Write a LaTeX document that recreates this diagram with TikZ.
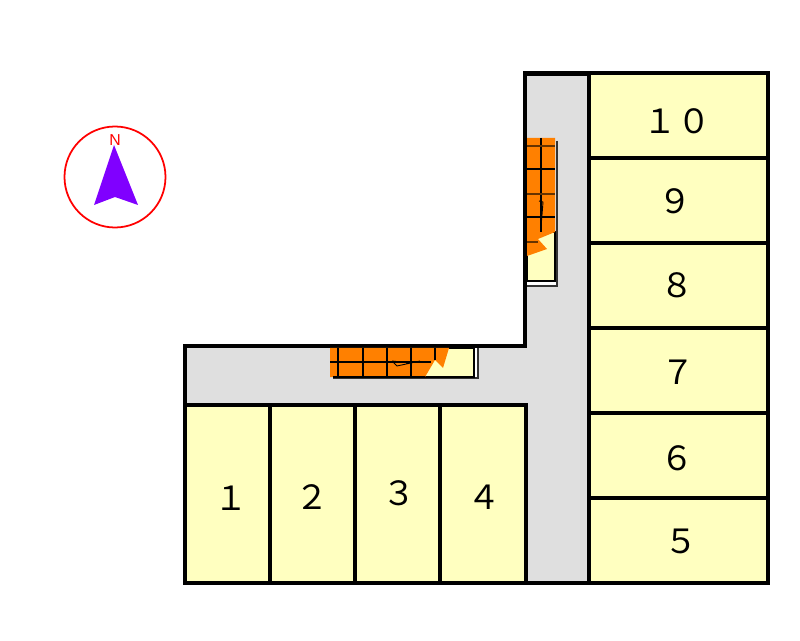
\documentclass[tikz,border=0pt]{standalone}
\usepackage{fontspec}
\newfontfamily\roomfont{Noto Sans CJK JP}
\setmainfont{Liberation Sans}
\definecolor{roomyellow}{HTML}{FFFFC0}
\definecolor{roadgray}{HTML}{DFDFDF}
\definecolor{stairorange}{HTML}{FF8000}
\definecolor{northpurple}{HTML}{8000FF}
\tikzset{
  room/.style={draw=black,line width=1.8pt,fill=roomyellow},
  road/.style={draw=black,line width=1.8pt,fill=roadgray,line join=miter},
  stairline/.style={draw=black,line width=0.6pt},
  roomnum/.style={font=\roomfont\fontsize{19}{19}\selectfont,inner sep=0pt}
}
\begin{document}
\begin{tikzpicture}[x=0.02cm,y=-0.02cm]
   \useasboundingbox (0,0) rectangle (800,641);

   % road
   \draw[road] (525,73) -- (589,73) -- (589,583) -- (526,583) -- (526,405) -- (185,405) -- (185,346) -- (525,346) -- cycle;
   \draw[line width=2.4pt] (524,73.5) -- (589,73.5);

   % rooms on the right
   \foreach \top/\bot in {73/158,158/243,243/328,328/413,413/498,498/583}
     \draw[room] (589,\top) rectangle (768,\bot);
   % rooms at the bottom
   \foreach \lft/\rgt in {185/270,270/355,355/440,440/526}
     \draw[room] (\lft,405) rectangle (\rgt,583);

   \foreach \name/\txt/\xx/\yy in {r10/１０/677/121,r9/９/675/201,r8/８/677/285,r7/７/678/372,r6/６/677/458,r5/５/681/541,r1/１/231/498,r2/２/312/497,r3/３/399/493,r4/４/484/497}
     \node[roomnum] (\name) at (\xx,\yy) {\txt};

   % stairs, upper
   \fill[white] (527,281) rectangle (557,286);
   \draw[line width=0.7pt,draw=black!80] (557,141) -- (557,286) -- (527,286);
   \draw[stairline,fill=roomyellow] (527,232) rectangle (555,281);
   \fill[stairorange] (527,138) -- (555,138) -- (555,232) -- (538,239) -- (547,249) -- (527,256) -- cycle;
   \draw[stairline] (541,138) -- (541,232);
   \draw[stairline] (527,169) -- (555,169) (527,217) -- (555,217);
   \draw[stairline,draw=black!60!stairorange] (527,146) -- (555,146) (527,194) -- (555,194) (527,242) -- (538,242);
   \draw[line width=0.5pt] (539,201) -- (543,202) -- (542,215) -- (541,227) -- (540.5,215) -- (541,203);

   % stairs, lower
   \fill[white] (470,348) rectangle (477,377);
   \draw[line width=0.8pt,draw=black!80] (478,348) -- (478,378) -- (333,378);
   \draw[stairline,fill=roomyellow] (420,348) rectangle (474,377);
   \fill[stairorange] (330,348) -- (449,348) -- (443,368) -- (435,360) -- (425,377) -- (330,377) -- cycle;
   \draw[stairline] (338,348) -- (338,377) (363,348) -- (363,377) (387,348) -- (387,377) (411,348) -- (411,377) (435,348) -- (435,360);
   \draw[stairline] (330,362) -- (431,362);
   \draw[stairline] (333,377) -- (425,377);
   \draw[line width=0.5pt] (392,361) -- (397,366) -- (420,361) (392,361) -- (410,363);

   % north mark
   \draw[red,line width=1pt] (115,177) circle (50.5);
   \fill[northpurple] (114,145) -- (94,205) -- (115,197) -- (138,205) -- cycle;
   \node[red,font=\fontsize{9}{9}\selectfont,inner sep=0pt] (north) at (115,140) {N};
 \end{tikzpicture}
\end{document}
